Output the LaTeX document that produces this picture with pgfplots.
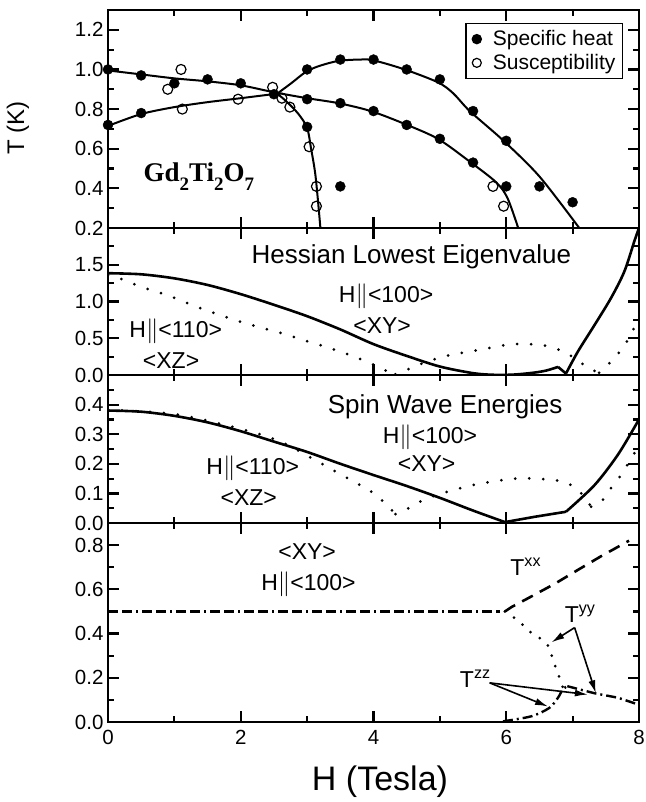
\documentclass[border=0pt]{standalone}
\usepackage{fontspec}
\setmainfont{Liberation Sans}
\newfontfamily\timesfont{Liberation Serif}
\usepackage{pgfplots}
\pgfplotsset{compat=1.18}
\usetikzlibrary{arrows.meta}
\newcommand{\Hp}{H$\|$}
\tikzset{lab/.style={font=\fontsize{23}{23}\selectfont, inner sep=0pt}}
\begin{document}
\begin{tikzpicture}
\pgfplotsset{
  every axis/.append style={
    scale only axis, width=531pt, xmin=0, xmax=8,
    anchor=north west,
    axis line style={line width=2.4pt},
    tick align=inside, tick pos=both,
    xtick={0,2,4,6,8}, minor xtick={1,3,5,7},
    major tick length=11pt, minor tick length=6pt,
    major tick style={line width=2.2pt, black},
    minor tick style={line width=2.2pt, black},
    tick label style={font=\fontsize{20.5}{21}\selectfont},
    /pgf/number format/assume math mode=true,
    yticklabel style={/pgf/number format/fixed, /pgf/number format/fixed zerofill, /pgf/number format/precision=1, xshift=-1pt},
    xticklabels={},
    clip=true,
  },
  solidc/.style={black, line width=2.6pt, smooth, tension=0.5, no marks},
  dotc/.style={black, line width=3pt, line cap=round, dash pattern=on 0pt off 14pt, smooth, tension=0.5, no marks},
}
% ---------------- Panel 1 ----------------
\begin{axis}[at={(108pt,-10pt)}, height=218pt, ymin=0.2, ymax=1.3,
  ytick={0.2,0.4,0.6,0.8,1.0,1.2}, minor ytick={0.3,0.5,0.7,0.9,1.1},
  legend style={at={(0.97,0.94)}, anchor=north east, draw=black, line width=1.4pt,
    font=\fontsize{21}{26}\selectfont, inner xsep=5pt, inner ysep=5pt, row sep=3pt, legend cell align=left},
  legend image code/.code={\path[draw=none, fill=none] (-4pt,0pt) -- (16pt,0pt); \draw[#1] (2pt,0pt) circle (4.5pt);},
]
\addplot[black, line width=2pt, smooth, tension=0.5, forget plot] coordinates {
 (0,0.715) (0.5,0.775) (1.0,0.81) (1.5,0.835) (2.0,0.855) (2.55,0.878)};
\addplot[black, line width=2pt, smooth, tension=0.5, forget plot] coordinates {
 (2.55,0.878) (2.77,0.933) (2.97,0.985) (3.16,1.015) (3.47,1.043) (3.8,1.05) (4.0,1.046)
 (4.47,1.0) (4.97,0.935) (5.2,0.88) (5.45,0.79) (5.96,0.64) (6.5,0.46) (7.1,0.2)};
\addplot[black, line width=2pt, smooth, tension=0.5, forget plot] coordinates {
 (0,0.995) (0.5,0.975) (1.0,0.955) (1.5,0.94) (2.0,0.92) (2.5,0.885) (3.0,0.855)
 (3.47,0.83) (3.96,0.79) (4.47,0.725) (4.97,0.65) (5.45,0.535) (5.85,0.43) (6.02,0.35) (6.18,0.2)};
\addplot[black, line width=2pt, smooth, tension=0.5, forget plot] coordinates {
 (2.55,0.878) (2.7,0.835) (2.87,0.775) (3.0,0.705) (3.06,0.6) (3.12,0.48) (3.16,0.35) (3.2,0.2)};
\addplot[only marks, mark=*, mark size=5pt, black, fill=black] coordinates {
 (0,0.72) (0,1.0) (0.5,0.78) (0.5,0.97) (1.0,0.93) (1.5,0.95) (2.0,0.93) (2.5,0.875)
 (3.0,1.0) (3.0,0.85) (3.0,0.71) (3.5,1.05) (4.0,1.05) (4.5,1.0) (5.0,0.95) (5.5,0.79)
 (6.0,0.64) (6.5,0.41) (7.0,0.33) (3.5,0.83) (4.0,0.79) (4.5,0.72) (5.0,0.65) (5.5,0.53)
 (6.0,0.41) (3.5,0.41)};
\addlegendentry{Specific heat}
\addplot[only marks, mark=o, mark size=5pt, black, line width=1.2pt, fill=white] coordinates {
 (0.9,0.9) (1.1,1.0) (1.12,0.8) (1.96,0.85) (2.48,0.91) (2.62,0.855) (2.74,0.81)
 (3.03,0.61) (3.14,0.41) (3.14,0.31) (5.8,0.41) (5.96,0.31)};
\addlegendentry{Susceptibility}
\node[font=\fontsize{27}{27}\selectfont\timesfont\bfseries, inner sep=0pt] at (axis cs:1.37,0.46)
 {Gd\raisebox{-0.35em}{\fontsize{19}{19}\selectfont 2}Ti\raisebox{-0.35em}{\fontsize{19}{19}\selectfont 2}O\raisebox{-0.35em}{\fontsize{19}{19}\selectfont 7}};
\end{axis}
% ---------------- Panel 2 ----------------
\begin{axis}[at={(108pt,-228pt)}, height=147pt, ymin=0, ymax=2.0,
  ytick={0,0.5,1.0,1.5}, minor ytick={0.25,0.75,1.25,1.75}]
\addplot[solidc] coordinates {
 (0,1.385) (0.5,1.37) (1.0,1.315) (1.5,1.225) (2.0,1.1) (2.5,0.955) (3.0,0.8)
 (3.5,0.62) (4.0,0.42) (4.5,0.26) (5.0,0.115) (5.5,0.025) (5.8,0.003)
 (6.1,0.005) (6.4,0.03) (6.6,0.06) (6.78,0.11)};
\addplot[black, line width=2.6pt] coordinates {(6.78,0.11) (6.9,0.02)};
\addplot[solidc] coordinates {
 (6.9,0.02) (7.08,0.32) (7.33,0.68) (7.58,1.05) (7.78,1.41) (7.93,1.82) (8.0,2.0)};
\addplot[dotc] coordinates {
 (0,1.36) (0.22,1.30) (0.5,1.2) (0.88,1.09) (1.3,0.94) (1.77,0.79) (2.2,0.67) (2.61,0.57)
 (3.0,0.46) (3.29,0.38) (3.71,0.25) (4.0,0.14) (4.16,0.07) (4.33,0.01)};
\addplot[dotc] coordinates {
 (4.33,0.01) (4.5,0.07) (4.8,0.18) (5.1,0.26) (5.45,0.32) (5.7,0.36) (5.93,0.40)
 (6.13,0.42) (6.35,0.42) (6.58,0.40) (6.8,0.34) (7.03,0.23) (7.23,0.10) (7.4,0.03)};
\addplot[dotc] coordinates {
 (7.4,0.03) (7.63,0.23) (7.8,0.43) (7.95,0.68) (8.0,0.76)};
\node[font=\fontsize{26}{26}\selectfont, inner sep=0pt] at (axis cs:4.57,1.61) {Hessian Lowest Eigenvalue};
\node[lab] at (axis cs:4.19,1.07) {\Hp<100>};
\node[lab] at (axis cs:4.13,0.67) {<XY>};
\node[lab] at (axis cs:1.02,0.59) {\Hp<110>};
\node[lab] at (axis cs:0.95,0.2) {<XZ>};
\end{axis}
% ---------------- Panel 3 ----------------
\begin{axis}[at={(108pt,-375pt)}, height=148pt, ymin=0, ymax=0.5,
  ytick={0,0.1,0.2,0.3,0.4}, minor ytick={0.05,0.15,0.25,0.35,0.45}]
\addplot[solidc] coordinates {
 (0,0.38) (0.5,0.376) (1.0,0.362) (1.5,0.34) (2.0,0.31) (2.5,0.275) (3.0,0.24)
 (3.5,0.2) (4.0,0.162) (4.5,0.125) (5.0,0.085) (5.5,0.042) (5.98,0.003)};
\addplot[black, line width=2.6pt] coordinates {(5.98,0.003) (6.43,0.021) (6.9,0.038)};
\addplot[solidc] coordinates {
 (6.9,0.038) (7.33,0.128) (7.68,0.23) (7.98,0.342) (8.0,0.35)};
\addplot[dotc] coordinates {
 (0,0.382) (1.0,0.368) (2.0,0.318) (2.6,0.275) (3.06,0.22) (3.26,0.195) (3.7,0.14)
 (3.94,0.11) (4.15,0.072) (4.33,0.03)};
\addplot[dotc] coordinates {
 (4.33,0.03) (4.53,0.05) (4.75,0.078) (4.98,0.097) (5.2,0.111) (5.4,0.123) (5.63,0.134)
 (5.85,0.142) (6.08,0.149) (6.28,0.151) (6.5,0.149) (6.73,0.145) (6.93,0.134) (7.13,0.10) (7.28,0.055)};
\addplot[dotc] coordinates {
 (7.28,0.055) (7.43,0.072) (7.55,0.11) (7.73,0.162) (7.88,0.218) (8.0,0.26)};
\node[font=\fontsize{26}{26}\selectfont, inner sep=0pt] at (axis cs:5.08,0.393) {Spin Wave Energies};
\node[lab] at (axis cs:4.85,0.29) {\Hp<100>};
\node[lab] at (axis cs:4.8,0.2) {<XY>};
\node[lab] at (axis cs:2.18,0.185) {\Hp<110>};
\node[lab] at (axis cs:2.12,0.087) {<XZ>};
\end{axis}
% ---------------- Panel 4 ----------------
\begin{axis}[at={(108pt,-523pt)}, height=199pt, ymin=0, ymax=0.9,
  ytick={0,0.2,0.4,0.6,0.8}, minor ytick={0.1,0.3,0.5,0.7},
  xticklabels={0,2,4,6,8},
  xticklabel style={yshift=-5pt}]
\addplot[black, line width=2.4pt, dash pattern=on 10pt off 4pt on 10pt off 4pt on 2pt off 4pt] coordinates {
 (0,0.5) (5.9,0.5)};
\addplot[black, line width=2.6pt, dash pattern=on 12pt off 8pt] coordinates {
 (5.98,0.5) (6.08,0.52) (6.33,0.56) (6.73,0.625) (7.08,0.688) (7.43,0.75) (7.85,0.82)};
\addplot[dotc, dash pattern=on 0pt off 11pt] coordinates {
 (5.98,0.5) (6.18,0.458) (6.35,0.41) (6.53,0.374) (6.65,0.336) (6.7,0.283) (6.78,0.22)
 (6.83,0.177) (6.88,0.13)};
\addplot[black, line width=2.4pt, dash pattern=on 10pt off 4pt on 2pt off 4pt, smooth, tension=0.5] coordinates {
 (5.95,0.003) (6.38,0.026) (6.65,0.064) (6.78,0.11) (6.85,0.147) (6.92,0.162)};
\addplot[black, line width=2.4pt, dash pattern=on 10pt off 4pt on 2pt off 4pt] coordinates {
 (6.92,0.162) (7.33,0.13) (7.68,0.11) (8.0,0.078)};
\node[lab] at (axis cs:3.0,0.77) {<XY>};
\node[lab] at (axis cs:3.02,0.625) {\Hp<100>};
\node[lab, anchor=west] at (axis cs:6.06,0.70) {T\textsuperscript{xx}};
\node[lab, anchor=west] at (axis cs:6.88,0.49) {T\textsuperscript{yy}};
\node[lab, anchor=west] at (axis cs:5.3,0.195) {T\textsuperscript{zz}};
\draw[black, line width=1.6pt, -{Latex[length=13pt,width=7pt]}] (axis cs:7.03,0.427) -- (axis cs:6.68,0.36);
\draw[black, line width=1.6pt, -{Latex[length=13pt,width=7pt]}] (axis cs:7.03,0.427) -- (axis cs:7.35,0.13);
\draw[black, line width=1.6pt, -{Latex[length=13pt,width=7pt]}] (axis cs:5.75,0.177) -- (axis cs:6.63,0.07);
\draw[black, line width=1.6pt, -{Latex[length=13pt,width=7pt]}] (axis cs:5.75,0.177) -- (axis cs:7.23,0.124);
\end{axis}
\node[font=\fontsize{24}{24}\selectfont, rotate=90] at (18pt,-128pt) {T (K)};
\node[font=\fontsize{34}{34}\selectfont] at (380pt,-782pt) {H (Tesla)};
\pgfresetboundingbox
\useasboundingbox (0pt,0pt) rectangle (645pt,-802pt);
\end{tikzpicture}
\end{document}
